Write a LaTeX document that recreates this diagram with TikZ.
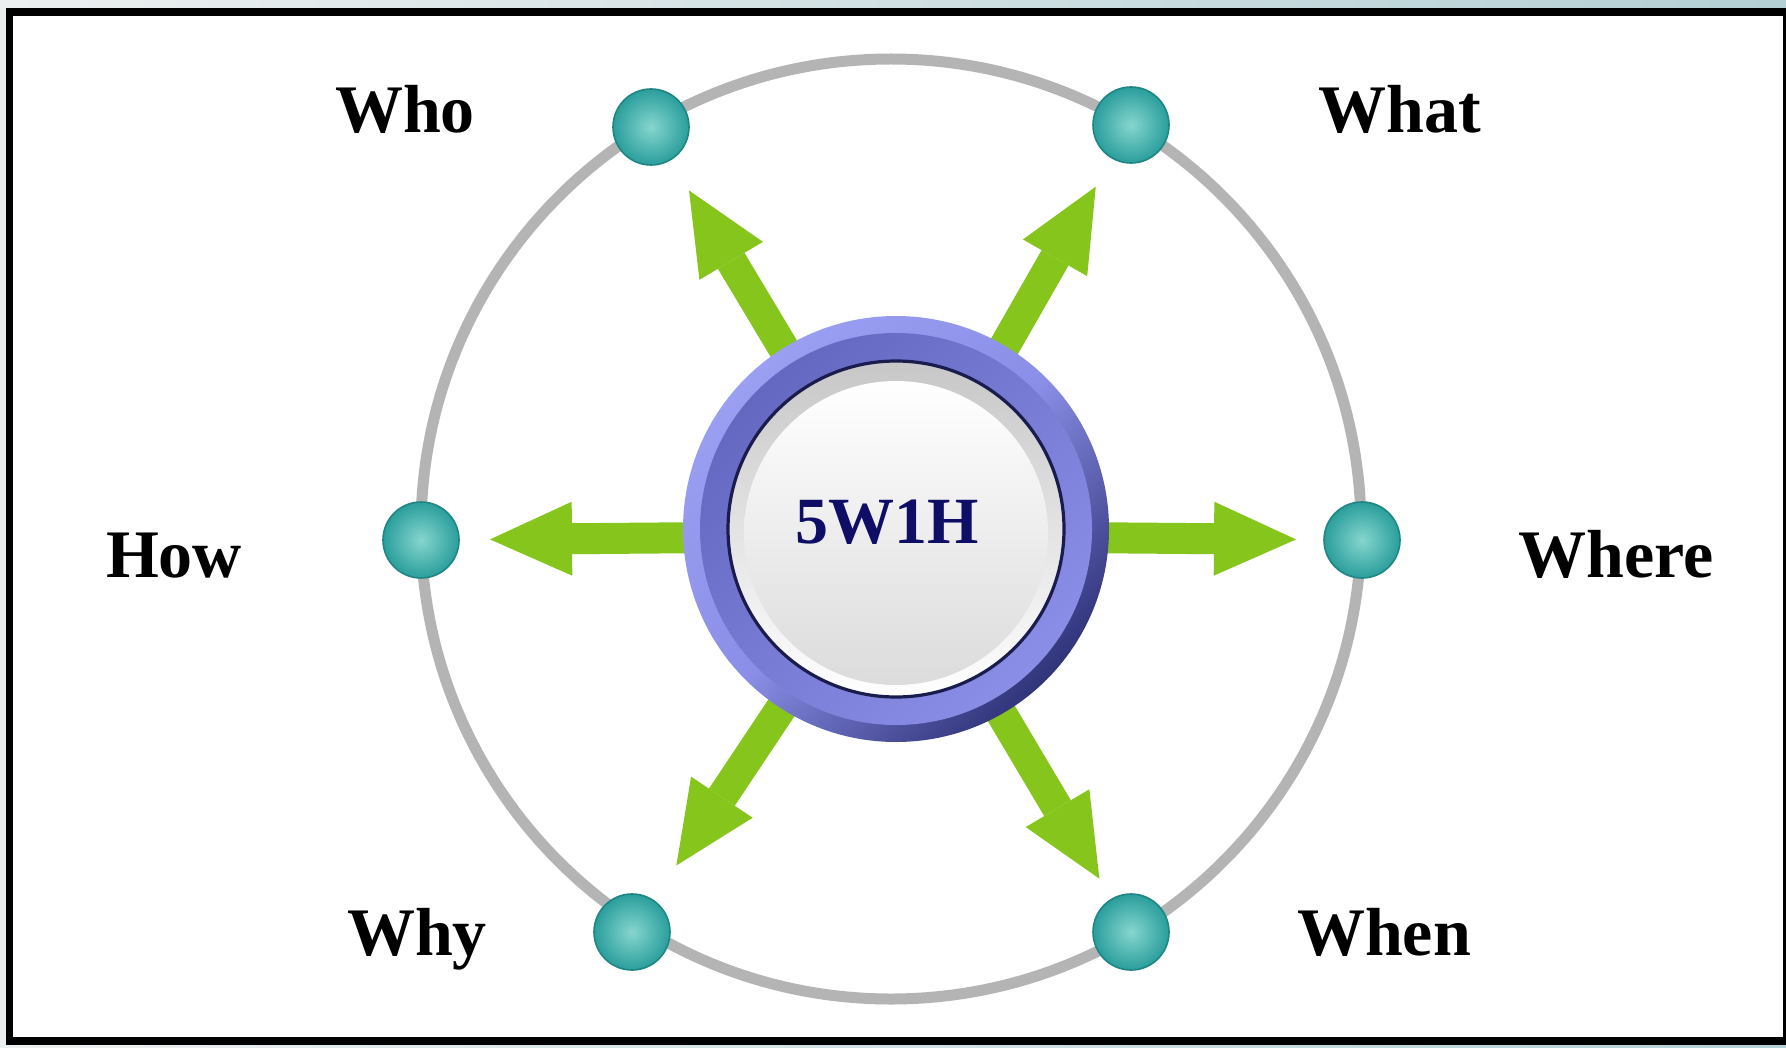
\documentclass[tikz,border=0pt]{standalone}
\usepackage{fontspec}
\setmainfont{Liberation Serif}
\usetikzlibrary{arrows.meta}
\definecolor{bgl}{HTML}{ECEFF0}
\definecolor{bgr}{HTML}{B4D0D4}
\definecolor{grn}{HTML}{86C51C}
\definecolor{ringgray}{HTML}{B4B4B4}
\definecolor{dotin}{HTML}{86D6CE}
\definecolor{dotout}{HTML}{2A9E9C}
\definecolor{dotline}{HTML}{1E8684}
\definecolor{navy}{HTML}{0E0E66}
\definecolor{purlight}{HTML}{9A9FF2}
\definecolor{purdark}{HTML}{30347A}
\definecolor{purmid}{HTML}{6468C0}
\definecolor{purinner}{HTML}{8A8EE6}
\definecolor{rimnavy}{HTML}{1A1C4E}
\begin{document}
\begin{tikzpicture}[x=0.5pt,y=-0.5pt,
  lbl/.style={font=\fontsize{34}{40}\selectfont\bfseries, anchor=base, inner sep=0pt},
  dotnode/.style={circle, minimum size=38pt, inner sep=0pt, shade, inner color=dotin, outer color=dotout, draw=dotline, line width=0.8pt},
  greenarrow/.style={draw=grn, line width=15.5pt, -{Triangle[length=41pt,width=37pt,line width=0pt]}}
]
\useasboundingbox (0,0) rectangle (1786,1048);
% background and frame
\shade[left color=bgl, right color=bgr] (0,0) rectangle (1786,1048);
\fill[black] (5.7,8.3) rectangle (1786,1045);
\fill[white] (13.3,16) rectangle (1782.7,1036.7);
% gray orbit
\draw[ringgray, line width=5.5pt] (891,529) circle[radius=470];
% dots
\node[dotnode] (who) at (651,127) {};
\node[dotnode] (what) at (1131,125) {};
\node[dotnode] (how) at (421,540) {};
\node[dotnode] (where) at (1362,540) {};
\node[dotnode] (why) at (632,932) {};
\node[dotnode] (when) at (1131,932) {};
% arrows
\coordinate (hub) at (896,536);
\draw[greenarrow, shorten >=37pt] (hub) -- (who.center);
\draw[greenarrow, shorten >=35.5pt] (hub) -- (what.center);
\draw[greenarrow, shorten >=34.5pt] (hub) -- (how.center);
\draw[greenarrow, shorten >=33pt] (hub) -- (where.center);
\draw[greenarrow, shorten >=40pt] (hub) -- (why.center);
\draw[greenarrow, shorten >=31pt] (hub) -- (when.center);
% central button
\coordinate (ring) at (896,529);
\shade[top color=purlight, bottom color=purdark, middle color=purinner, shading angle=45] (ring) circle[radius=213];
\shade[top color=purmid, bottom color=purinner, shading angle=45] (ring) circle[radius=196];
\shade[top color=black!22, bottom color=white] (ring) circle[radius=168];
\draw[rimnavy, line width=1.6pt] (ring) circle[radius=168];
\shade[top color=white, bottom color=black!14] ([yshift=-2pt]ring) circle[radius=152];
\node[lbl, text=navy, font=\fontsize{33}{40}\selectfont\bfseries] (c) at (887,543) {5W1H};
% labels
\node[lbl] (lwho) at (405,133) {Who};
\node[lbl] (lwhat) at (1400,133) {What};
\node[lbl] (lhow) at (174,577) {How};
\node[lbl] (lwhere) at (1616,577) {Where};
\node[lbl] (lwhy) at (417,955) {Why};
\node[lbl] (lwhen) at (1384,955) {When};
\end{tikzpicture}
\end{document}
